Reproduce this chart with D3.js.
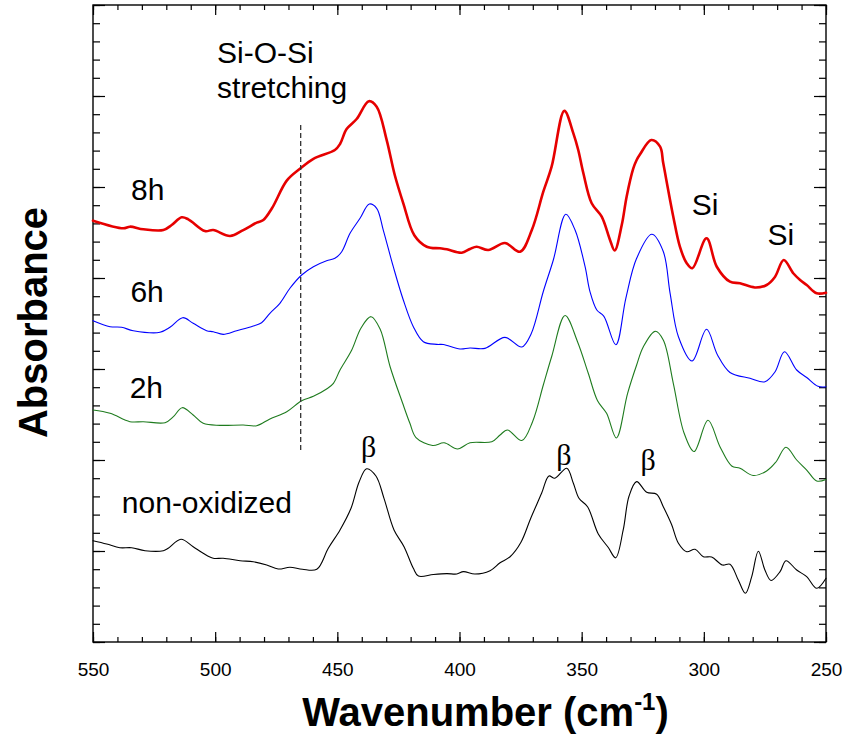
<!DOCTYPE html>
<html>
<head>
<meta charset="utf-8">
<script src="https://cdn.jsdelivr.net/npm/d3@7"></script>
<style>
  html, body { margin: 0; padding: 0; background: #fff; }
  svg { display: block; font-family: "Liberation Sans", Arial, sans-serif; }
</style>
</head>
<body>
<svg id="chart" width="843" height="740"></svg>
<script>
// ---------------- data (wavenumber in cm^-1, absorbance in arbitrary offset units) ----------------
const wn8h = [550, 537.6, 534.9, 529.4, 521.2, 517.8, 513.7, 511.0, 504.2, 500.8, 493.9, 488.5, 483.0, 480.3, 476.7, 470.7, 465.3, 459.8, 451.0, 448.9, 446.2, 442.1, 437.1, 433.9, 429.8, 426.5, 423.0, 418.5, 413.4, 408.0, 405.2, 399.1, 395.7, 393.0, 388.2, 381.4, 375.2, 370.4, 365.7, 362.3, 357.1, 353.4, 351.4, 349.3, 345.9, 341.8, 338.4, 336.5, 333.6, 331.6, 328.9, 327.5, 326.1, 321.5, 317.9, 316.6, 312.5, 309.8, 307.0, 304.7, 298.9, 294.7, 289.3, 285.2, 279.1, 274.3, 270.9, 267.3, 263.4, 260.6, 257.9, 253.8, 250];
const abs8h = [4.63, 4.546, 4.564, 4.535, 4.527, 4.582, 4.667, 4.645, 4.516, 4.527, 4.462, 4.527, 4.608, 4.637, 4.769, 5.07, 5.2, 5.31, 5.407, 5.473, 5.637, 5.747, 5.943, 5.883, 5.516, 5.132, 4.821, 4.47, 4.344, 4.326, 4.315, 4.278, 4.319, 4.344, 4.308, 4.385, 4.289, 4.527, 4.948, 5.223, 5.837, 5.59, 5.407, 5.151, 4.821, 4.674, 4.418, 4.302, 4.582, 4.894, 5.201, 5.297, 5.36, 5.516, 5.443, 5.26, 4.674, 4.344, 4.162, 4.107, 4.436, 4.124, 3.959, 3.942, 3.896, 3.923, 4.011, 4.198, 4.052, 3.978, 3.923, 3.832, 3.838];

const wn6h = [550, 543.0, 538.3, 533.5, 522.6, 518.5, 513.3, 509.0, 503.5, 500.8, 496.7, 491.2, 484.4, 481.0, 477.6, 473.5, 469.4, 464.6, 459.8, 454.4, 451.0, 448.2, 444.8, 440.7, 436.9, 433.9, 431.2, 427.1, 423.0, 418.9, 414.8, 409.3, 406.6, 399.8, 395.7, 389.6, 381.4, 374.5, 370.7, 365.7, 361.6, 356.5, 352.7, 348.6, 346.6, 343.8, 340.9, 336.0, 331.9, 327.5, 321.3, 316.6, 313.8, 310.4, 304.8, 298.9, 294.4, 289.3, 281.1, 275.0, 270.9, 267.0, 262.0, 257.9, 253.3, 250];
const abs6h = [3.531, 3.465, 3.458, 3.421, 3.403, 3.458, 3.564, 3.502, 3.421, 3.41, 3.381, 3.421, 3.473, 3.509, 3.612, 3.722, 3.887, 4.033, 4.124, 4.19, 4.216, 4.289, 4.491, 4.656, 4.813, 4.766, 4.527, 4.124, 3.758, 3.465, 3.3, 3.271, 3.269, 3.22, 3.231, 3.227, 3.348, 3.242, 3.385, 3.852, 4.198, 4.7, 4.527, 4.124, 3.85, 3.648, 3.579, 3.267, 3.78, 4.216, 4.48, 4.291, 3.832, 3.355, 3.088, 3.436, 3.154, 2.962, 2.898, 2.86, 2.967, 3.19, 2.989, 2.907, 2.81, 2.805];

const wn2h = [550, 543.0, 534.9, 529.4, 520.5, 517.1, 513.5, 509.0, 504.9, 498.0, 488.5, 483.0, 477.6, 470.7, 464.6, 459.8, 454.4, 451.6, 448.9, 444.1, 440.3, 436.2, 432.5, 428.4, 423.3, 420.3, 417.8, 411.0, 406.3, 400.8, 395.7, 386.8, 383.4, 380.4, 374.5, 370.1, 365.7, 362.3, 356.8, 351.7, 347.3, 343.5, 339.8, 335.8, 331.2, 327.5, 324.8, 319.9, 316.6, 312.5, 308.1, 304.0, 298.3, 293.4, 288.6, 285.2, 279.8, 274.3, 270.5, 266.4, 262.0, 257.9, 253.8, 250];
const abs2h = [2.549, 2.513, 2.421, 2.421, 2.41, 2.476, 2.575, 2.495, 2.403, 2.381, 2.385, 2.377, 2.451, 2.531, 2.652, 2.7, 2.78, 2.843, 2.989, 3.209, 3.451, 3.575, 3.44, 3.025, 2.626, 2.403, 2.247, 2.159, 2.189, 2.121, 2.189, 2.201, 2.275, 2.33, 2.214, 2.421, 2.824, 3.135, 3.588, 3.3, 2.953, 2.651, 2.513, 2.242, 2.733, 3.044, 3.242, 3.414, 3.319, 2.843, 2.297, 2.093, 2.436, 2.146, 1.934, 1.909, 1.83, 1.879, 1.978, 2.14, 2.0, 1.89, 1.769, 1.786];

const wnNon = [550, 544.4, 539.0, 534.2, 528.7, 521.2, 519.2, 514.0, 509.0, 504.9, 500.8, 496.7, 489.8, 484.4, 478.9, 474.2, 469.4, 464.3, 458.4, 453.7, 448.9, 444.4, 441.1, 438.0, 434.2, 430.9, 426.8, 422.7, 418.9, 416.8, 410.7, 405.2, 401.1, 398.4, 393.7, 387.5, 383.4, 379.3, 374.9, 370.8, 366.4, 363.4, 361.0, 356.1, 353.4, 351.1, 347.6, 343.2, 339.1, 336.1, 333.0, 330.6, 327.5, 323.4, 319.3, 316.6, 313.2, 310.4, 307.0, 303.6, 300.2, 296.8, 292.4, 289.3, 285.9, 283.0, 280.4, 277.7, 275.0, 272.5, 268.8, 266.4, 262.0, 257.9, 253.8, 250];
const absNon = [1.113, 1.077, 1.036, 1.036, 1.003, 1.003, 1.03, 1.129, 1.047, 0.975, 0.92, 0.92, 0.893, 0.882, 0.846, 0.802, 0.821, 0.799, 0.799, 1.03, 1.231, 1.469, 1.758, 1.904, 1.824, 1.579, 1.231, 1.047, 0.81, 0.725, 0.742, 0.751, 0.747, 0.773, 0.747, 0.784, 0.871, 0.937, 1.093, 1.363, 1.634, 1.825, 1.80, 1.909, 1.744, 1.579, 1.487, 1.187, 1.038, 0.925, 1.231, 1.604, 1.762, 1.646, 1.624, 1.487, 1.291, 1.085, 0.992, 1.019, 0.937, 0.934, 0.846, 0.855, 0.681, 0.535, 0.718, 0.998, 0.791, 0.676, 0.773, 0.893, 0.791, 0.718, 0.59, 0.7];

const seriesNames = ["8h", "6h", "2h", "non-oxidized"];
const seriesColors = ["#e60000", "#0000ff", "#1e7b1e", "#000000"];
const seriesWidths = [2.6, 1.1, 1.1, 1.1];

const xTickLabels = [550, 500, 450, 400, 350, 300, 250];
const markerWavenumber = 465;           // Si-O-Si stretching dashed line
const markerRange = [2.1, 5.68];         // vertical extent of the dashed line (absorbance units)

// annotations: [text, wavenumber, absorbance-baseline]
const seriesLabels = [["8h", 534.4, 4.86], ["6h", 534.7, 3.74], ["2h", 535.0, 2.68], ["non-oxidized", 538.2, 1.42]];
const betaLabels = [[437.2, 2.03], [357.3, 1.95], [322.8, 1.89]];
const siLabels = [[299.5, 4.69], [268.5, 4.36]];

// ---------------- layout ----------------
const svg = d3.select("#chart");
const L = 93, R = 826, T = 5, B = 642;
const x = d3.scaleLinear().domain([550, 250]).range([L, R]);
const y = d3.scaleLinear().domain([0, 7]).range([B, T]);

// frame
svg.append("rect").attr("x", L).attr("y", T).attr("width", R - L).attr("height", B - T)
  .attr("fill", "none").attr("stroke", "#000").attr("stroke-width", 1.4);

const minorX = d3.range(550, 249, -10);
const minorY = d3.range(0, 7.01, 0.2);
const majorY = d3.range(0, 8, 1);

function styleAxis(g) {
  g.select(".domain").remove();
  g.selectAll(".tick line").attr("stroke", "#000").attr("stroke-width", 1.2);
}
// bottom
svg.append("g").attr("transform", `translate(0,${B})`)
  .call(d3.axisBottom(x).tickValues(minorX).tickSizeInner(-5).tickSizeOuter(0).tickFormat(""))
  .call(styleAxis);
const bottomMajor = svg.append("g").attr("transform", `translate(0,${B})`)
  .call(d3.axisBottom(x).tickValues(xTickLabels).tickSizeInner(-10).tickSizeOuter(0).tickPadding(21).tickFormat(d3.format("d")))
  .call(styleAxis);
bottomMajor.selectAll("text").attr("font-size", 19).attr("fill", "#000")
  .attr("font-family", "'Liberation Sans', Arial, sans-serif");
// top
svg.append("g").attr("transform", `translate(0,${T})`)
  .call(d3.axisTop(x).tickValues(minorX).tickSizeInner(-5).tickSizeOuter(0).tickFormat(""))
  .call(styleAxis);
svg.append("g").attr("transform", `translate(0,${T})`)
  .call(d3.axisTop(x).tickValues(xTickLabels).tickSizeInner(-10).tickSizeOuter(0).tickFormat(""))
  .call(styleAxis);
// left
svg.append("g").attr("transform", `translate(${L},0)`)
  .call(d3.axisLeft(y).tickValues(minorY).tickSizeInner(-7).tickSizeOuter(0).tickFormat(""))
  .call(styleAxis);
svg.append("g").attr("transform", `translate(${L},0)`)
  .call(d3.axisLeft(y).tickValues(majorY).tickSizeInner(-12).tickSizeOuter(0).tickFormat(""))
  .call(styleAxis);
// right
svg.append("g").attr("transform", `translate(${R},0)`)
  .call(d3.axisRight(y).tickValues(minorY).tickSizeInner(-7).tickSizeOuter(0).tickFormat(""))
  .call(styleAxis);
svg.append("g").attr("transform", `translate(${R},0)`)
  .call(d3.axisRight(y).tickValues(majorY).tickSizeInner(-12).tickSizeOuter(0).tickFormat(""))
  .call(styleAxis);

// curves
const wns = [wn8h, wn6h, wn2h, wnNon];
const abss = [abs8h, abs6h, abs2h, absNon];
const line = d3.line().x(d => x(d[0])).y(d => y(d[1])).curve(d3.curveCatmullRom.alpha(0.5));
const plot = svg.append("g");
for (let i = 3; i >= 0; i--) {
  const pts = wns[i].map((w, j) => [w, abss[i][j]]);
  plot.append("path").datum(pts).attr("d", line)
    .attr("fill", "none").attr("stroke", seriesColors[i]).attr("stroke-width", seriesWidths[i])
    .attr("stroke-linejoin", "round").attr("stroke-linecap", "round");
}

// dashed marker line
svg.append("line")
  .attr("x1", x(markerWavenumber)).attr("x2", x(markerWavenumber))
  .attr("y1", y(markerRange[1])).attr("y2", y(markerRange[0]))
  .attr("stroke", "#333").attr("stroke-width", 1.3).attr("stroke-dasharray", "5,3");

// text annotations
const ann = svg.append("g").attr("fill", "#000").attr("font-size", 30);
ann.append("text").attr("x", x(499.2)).attr("y", y(6.36)).text("Si-O-Si");
ann.append("text").attr("x", x(499.2)).attr("y", y(5.975)).text("stretching");
seriesLabels.forEach(d => {
  ann.append("text").attr("x", x(d[1])).attr("y", y(d[2])).text(d[0]);
});
siLabels.forEach(d => {
  ann.append("text").attr("x", x(d[0])).attr("y", y(d[1])).attr("text-anchor", "middle").text("Si");
});
betaLabels.forEach(d => {
  ann.append("text").attr("x", x(d[0])).attr("y", y(d[1])).attr("text-anchor", "middle")
    .attr("font-family", "'Liberation Serif', 'Times New Roman', serif").attr("font-size", 30).text("β");
});

// axis titles
const xt = svg.append("text").attr("x", (L + R) / 2 + 26).attr("y", 726)
  .attr("text-anchor", "middle").attr("font-size", 40).attr("font-weight", "bold").attr("fill", "#000");
xt.append("tspan").text("Wavenumber (cm");
xt.append("tspan").attr("font-size", 24).attr("dy", -16).text("-1");
xt.append("tspan").attr("dy", 16).text(")");

svg.append("text").attr("transform", `translate(47,${(205 + 440) / 2}) rotate(-90)`)
  .attr("text-anchor", "middle").attr("font-size", 40).attr("font-weight", "bold").attr("fill", "#000")
  .text("Absorbance");
</script>
</body>
</html>
